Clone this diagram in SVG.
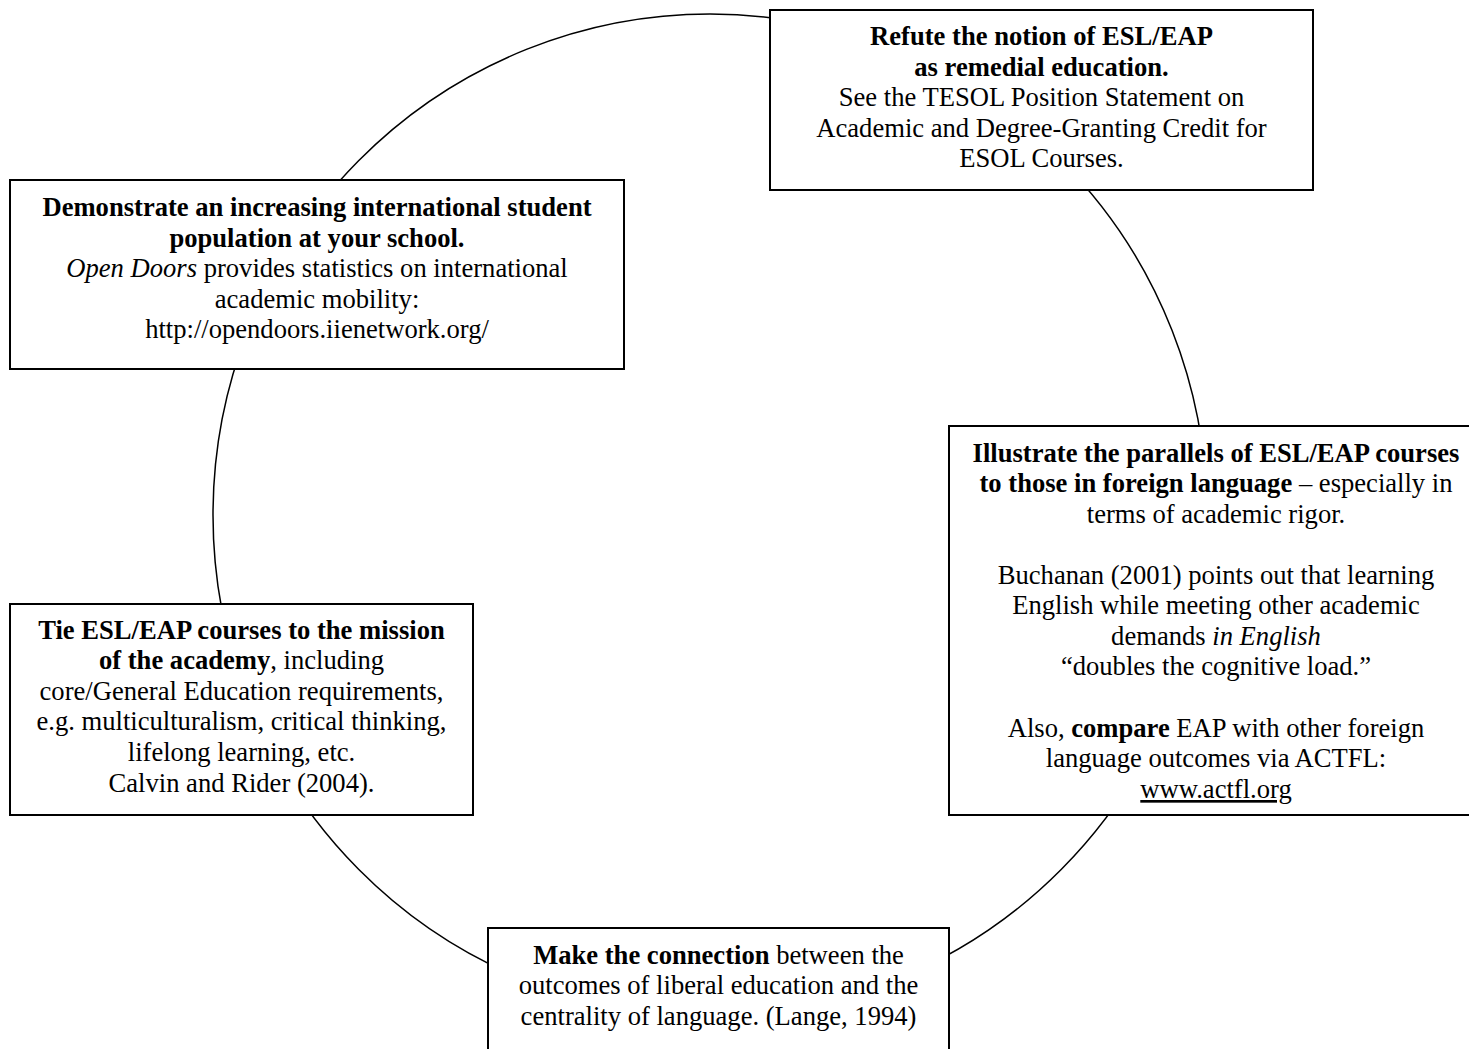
<svg xmlns="http://www.w3.org/2000/svg" width="1469" height="1049" viewBox="0 0 1469 1049">
<style>
.box{fill:#fff;stroke:#000;stroke-width:2}
.ring{fill:none;stroke:#000;stroke-width:1.5}
text{font-family:"Liberation Serif","Times New Roman",serif;font-size:26.6px;fill:#000;text-anchor:middle}
.b{font-weight:bold}
.i{font-style:italic}
</style>
<rect width="1469" height="1049" fill="#fff"/>
<g id="connectors">
<ellipse class="ring" cx="710" cy="515" rx="497" ry="501"/>
</g>
<g id="node-population">
<rect class="box" x="10" y="180" width="614" height="189"/>
<text x="317" y="216" class="b">Demonstrate an increasing international student</text>
<text x="317" y="246.5" class="b">population at your school.</text>
<text x="317" y="277"><tspan class="i">Open Doors</tspan> provides statistics on international</text>
<text x="317" y="307.5">academic mobility:</text>
<text x="317" y="338">http://opendoors.iienetwork.org/</text>
</g>
<g id="node-refute">
<rect class="box" x="770" y="10" width="543" height="180"/>
<text x="1041.5" y="45" class="b">Refute the notion of ESL/EAP</text>
<text x="1041.5" y="76" class="b">as remedial education.</text>
<text x="1041.5" y="106">See the TESOL Position Statement on</text>
<text x="1041.5" y="137">Academic and Degree-Granting Credit for</text>
<text x="1041.5" y="167">ESOL Courses.</text>
</g>
<g id="node-parallels">
<rect class="box" x="949" y="426" width="534" height="389"/>
<text x="1216" y="462" class="b">Illustrate the parallels of ESL/EAP courses</text>
<text x="1216" y="492"><tspan class="b">to those in foreign language</tspan> – especially in</text>
<text x="1216" y="523">terms of academic rigor.</text>
<text x="1216" y="584">Buchanan (2001) points out that learning</text>
<text x="1216" y="614">English while meeting other academic</text>
<text x="1216" y="645">demands <tspan class="i">in English</tspan></text>
<text x="1216" y="675">“doubles the cognitive load.”</text>
<text x="1216" y="737">Also, <tspan class="b">compare</tspan> EAP with other foreign</text>
<text x="1216" y="767">language outcomes via ACTFL:</text>
<text x="1216" y="798" text-decoration="underline">www.actfl.org</text>
</g>
<g id="node-mission">
<rect class="box" x="10" y="604" width="463" height="211"/>
<text x="241.5" y="639" class="b">Tie ESL/EAP courses to the mission</text>
<text x="241.5" y="669"><tspan class="b">of the academy</tspan>, including</text>
<text x="241.5" y="700">core/General Education requirements,</text>
<text x="241.5" y="730">e.g. multiculturalism, critical thinking,</text>
<text x="241.5" y="761">lifelong learning, etc.</text>
<text x="241.5" y="792">Calvin and Rider (2004).</text>
</g>
<g id="node-connection">
<rect class="box" x="488" y="928" width="461" height="140"/>
<text x="718.5" y="964"><tspan class="b">Make the connection</tspan> between the</text>
<text x="718.5" y="994">outcomes of liberal education and the</text>
<text x="718.5" y="1025">centrality of language. (Lange, 1994)</text>
</g>
</svg>
